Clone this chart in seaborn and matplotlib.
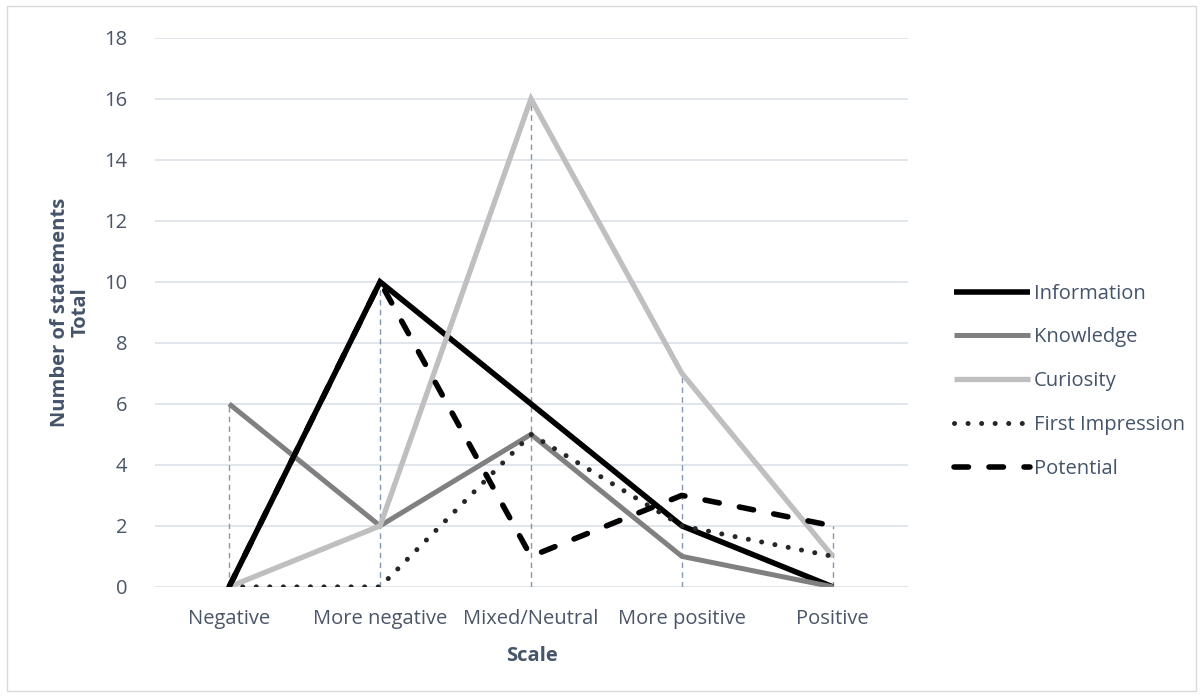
import numpy as np
import pandas as pd
import matplotlib
matplotlib.use("Agg")
import matplotlib.pyplot as plt
from matplotlib.lines import Line2D
from matplotlib.patches import Rectangle
import seaborn as sns

categories = ["Negative", "More negative", "Mixed/Neutral", "More positive", "Positive"]
information = [0, 10, 6, 2, 0]
knowledge = [6, 2, 5, 1, 0]
curiosity = [0, 2, 16, 7, 1]
first_impression = [0, 0, 5, 2, 1]
potential = [0, 10, 1, 3, 2]
y_ticks = [0, 2, 4, 6, 8, 10, 12, 14, 16, 18]

series = {
    "Information": information,
    "Knowledge": knowledge,
    "Curiosity": curiosity,
    "First Impression": first_impression,
    "Potential": potential,
}
styles = {
    "Information": dict(color="#000000", lw=4.0, ls="-", cap="butt"),
    "Knowledge": dict(color="#808080", lw=3.6, ls="-", cap="butt"),
    "Curiosity": dict(color="#BFBFBF", lw=3.8, ls="-", cap="butt"),
    "First Impression": dict(color="#262626", lw=3.6, ls=(0, (0.01, 2.7)), cap="round"),
    "Potential": dict(color="#000000", lw=4.0, ls=(0, (2.6, 3.7)), cap="round"),
}

df = pd.DataFrame(
    [(c, name, v) for name, vals in series.items() for c, v in zip(categories, vals)],
    columns=["Scale", "Series", "Value"],
)

sns.set_theme(style="white")
plt.rcParams["font.family"] = ["Open Sans", "DejaVu Sans"]

fig = plt.figure(figsize=(12.03, 6.97), dpi=100)
ax = fig.add_axes([0.129, 0.158, 0.626, 0.7877])

text_col = "#4A5568"
label_col = "#44546A"
fs = 14.5

# horizontal gridlines
for t in y_ticks:
    ax.axhline(t, color="#DCE1EA", lw=1.2, zorder=0)

# drop lines from each category's highest value down to the axis
xpos = np.arange(len(categories))
tops = df.groupby("Scale", sort=False)["Value"].max().reindex(categories).values
ax.vlines(xpos, 0, tops, colors="#8497B0", linestyles=(0, (4, 3)), lw=1.0, zorder=1)

for name in series:
    st = styles[name]
    sub = df[df["Series"] == name].copy()
    sub["x"] = [categories.index(c) for c in sub["Scale"]]
    sns.lineplot(data=sub, x="x", y="Value", ax=ax, sort=False, color=st["color"],
                 linewidth=st["lw"], linestyle=st["ls"], legend=False, zorder=3,
                 solid_capstyle=st["cap"], dash_capstyle=st["cap"],
                 solid_joinstyle="miter")

ax.set_xlim(-0.49, 4.5)
ax.set_ylim(0, 18)
ax.set_yticks(y_ticks)
ax.set_xticks(xpos)
ax.set_xticklabels(categories)
ax.tick_params(axis="both", labelsize=fs, colors=text_col, length=0)
ax.tick_params(axis="y", pad=20)
ax.tick_params(axis="x", pad=16)
for s in ax.spines.values():
    s.set_visible(False)

ax.set_xlabel("Scale", fontsize=fs, fontweight="bold", color=label_col, labelpad=12)
ax.set_ylabel("Number of statements\nTotal", fontsize=fs, fontweight="bold",
              color=label_col, labelpad=10, linespacing=1.05)

handles = []
for name in series:
    st = styles[name]
    handles.append(Line2D([0], [0], color=st["color"], lw=st["lw"], linestyle=st["ls"],
                          solid_capstyle=st["cap"], dash_capstyle=st["cap"]))
leg = fig.legend(handles, list(series.keys()), loc="center left",
                 bbox_to_anchor=(0.778, 0.453), frameon=False, fontsize=fs,
                 handlelength=3.75, handletextpad=0.2, labelspacing=1.18)
for t in leg.get_texts():
    t.set_color(label_col)

fig.add_artist(Rectangle((0.006, 0.008), 0.988, 0.984, transform=fig.transFigure,
                         fill=False, edgecolor="#D9D9D9", lw=1.0))

fig.savefig("out.png", dpi=100)
